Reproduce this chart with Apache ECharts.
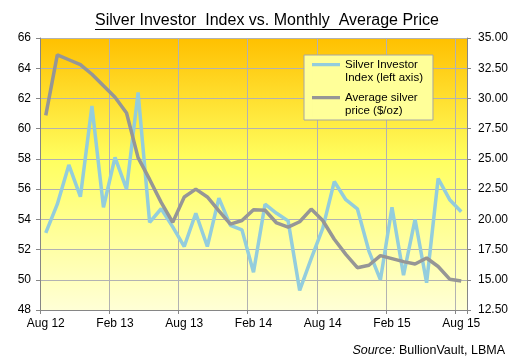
<!DOCTYPE html>
<html>
<head>
<meta charset="utf-8">
<script src="https://cdn.jsdelivr.net/npm/echarts@6/dist/echarts.min.js"></script>
<style>
html,body{margin:0;padding:0;background:#fff;}
#c{width:511px;height:359px;}
</style>
</head>
<body>
<div id="c"></div>
<script>
const categories = ['Aug 12','Sep 12','Oct 12','Nov 12','Dec 12','Jan 13','Feb 13','Mar 13','Apr 13','May 13','Jun 13','Jul 13','Aug 13','Sep 13','Oct 13','Nov 13','Dec 13','Jan 14','Feb 14','Mar 14','Apr 14','May 14','Jun 14','Jul 14','Aug 14','Sep 14','Oct 14','Nov 14','Dec 14','Jan 15','Feb 15','Mar 15','Apr 15','May 15','Jun 15','Jul 15','Aug 15'];
const investorIndex = [53.1,55.0,57.6,55.5,61.5,54.8,58.1,56.0,62.4,53.8,54.7,53.5,52.2,54.4,52.2,55.4,53.6,53.3,50.5,55.0,54.4,53.9,49.3,51.4,53.4,56.5,55.3,54.7,51.9,50.0,54.8,50.3,54.0,49.8,56.7,55.3,54.5];
const silverPrice = [28.6,33.6,33.2,32.8,32.0,31.05,30.1,28.8,25.1,23.3,21.4,19.75,21.85,22.5,21.85,20.7,19.6,19.9,20.8,20.75,19.7,19.35,19.8,20.85,19.9,18.35,17.1,16.0,16.2,17.0,16.75,16.5,16.3,16.8,16.1,15.05,14.9];
const leftTicks = {min: 48, max: 66, interval: 2};
const rightTicks = {min: 12.5, max: 35, interval: 2.5};
const seriesNames = ['Silver Investor Index (left axis)', 'Average silver price ($/oz)'];
const legendLabels = {'Silver Investor Index (left axis)': 'Silver Investor\nIndex (left axis)', 'Average silver price ($/oz)': 'Average silver\nprice ($/oz)'};

const chart = echarts.init(document.getElementById('c'), null, {renderer: 'canvas'});
const FONT = 'Liberation Sans, Arial, sans-serif';
const axisGray = '#868686';
const gridGray = '#B2B2B2';
chart.setOption({
  animation: false,
  backgroundColor: '#fff',
  textStyle: {fontFamily: FONT},
  title: [{
    text: 'Silver Investor  Index vs. Monthly  Average Price',
    left: 95, top: 13,
    padding: 0,
    textStyle: {fontFamily: FONT, fontSize: 16, fontWeight: 'normal', color: '#000'}
  }, {
    text: '{i|Source:} BullionVault, LBMA',
    right: 6, top: 344,
    padding: 0,
    textStyle: {fontFamily: FONT, fontSize: 12.5, fontWeight: 'normal', color: '#000',
      rich: {i: {fontFamily: FONT, fontSize: 12.5, fontStyle: 'italic', color: '#000'}}}
  }],
  graphic: [{
    type: 'line', z: 10,
    shape: {x1: 95, y1: 29.5, x2: 430, y2: 29.5},
    style: {stroke: '#000', lineWidth: 1}
  }],
  legend: {
    orient: 'vertical',
    left: 304, top: 55,
    padding: [3, 10, 3, 8],
    itemGap: 7,
    itemWidth: 28, itemHeight: 26,
    icon: 'path://M0,5L28,5L28,8.2L0,8.2Z M0,0L0.01,0L0.01,26L0,26Z',
    itemStyle: {borderWidth: 0},
    backgroundColor: '#FFFF99',
    borderColor: '#A6A6A6', borderWidth: 1, borderRadius: 0,
    formatter: n => legendLabels[n],
    textStyle: {fontFamily: FONT, fontSize: 11.5, lineHeight: 13, color: '#000'},
    data: seriesNames
  },
  grid: {
    left: 40, right: 44, top: 38, bottom: 49,
    outerBoundsMode: 'none',
    show: true, borderWidth: 0,
    backgroundColor: new echarts.graphic.LinearGradient(0, 0, 0, 1, [
      {offset: 0, color: '#FFC000'},
      {offset: 0.45, color: '#FFFF60'},
      {offset: 1, color: '#FFFFD6'}
    ])
  },
  xAxis: {
    type: 'category',
    data: categories,
    boundaryGap: true,
    axisLine: {show: true, lineStyle: {color: axisGray, width: 1}},
    axisTick: {show: true, interval: 5, length: 4, lineStyle: {color: axisGray}},
    axisLabel: {interval: 5, margin: 8, fontSize: 12, color: '#000', fontFamily: FONT},
    splitLine: {show: true, interval: 5, lineStyle: {color: gridGray, width: 1}}
  },
  yAxis: [{
    type: 'value', position: 'left',
    min: leftTicks.min, max: leftTicks.max, interval: leftTicks.interval,
    axisLine: {show: true, lineStyle: {color: axisGray, width: 1}},
    axisTick: {show: true, length: 4, lineStyle: {color: axisGray}},
    axisLabel: {margin: 9, fontSize: 12, color: '#000', fontFamily: FONT},
    splitLine: {show: true, lineStyle: {color: gridGray, width: 1}}
  }, {
    type: 'value', position: 'right',
    min: rightTicks.min, max: rightTicks.max, interval: rightTicks.interval,
    axisLine: {show: true, lineStyle: {color: axisGray, width: 1}},
    axisTick: {show: true, length: 4, lineStyle: {color: axisGray}},
    axisLabel: {margin: 11, fontSize: 12, color: '#000', fontFamily: FONT, formatter: v => v.toFixed(2)},
    splitLine: {show: false}
  }],
  series: [{
    name: seriesNames[0],
    type: 'line', yAxisIndex: 0,
    data: investorIndex,
    symbol: 'none', smooth: false,
    color: '#93CDDD',
    lineStyle: {color: '#93CDDD', width: 3.5}
  }, {
    name: seriesNames[1],
    type: 'line', yAxisIndex: 1,
    data: silverPrice,
    symbol: 'none', smooth: false,
    color: '#969696',
    lineStyle: {color: '#969696', width: 3.5}
  }]
});
</script>
</body>
</html>
